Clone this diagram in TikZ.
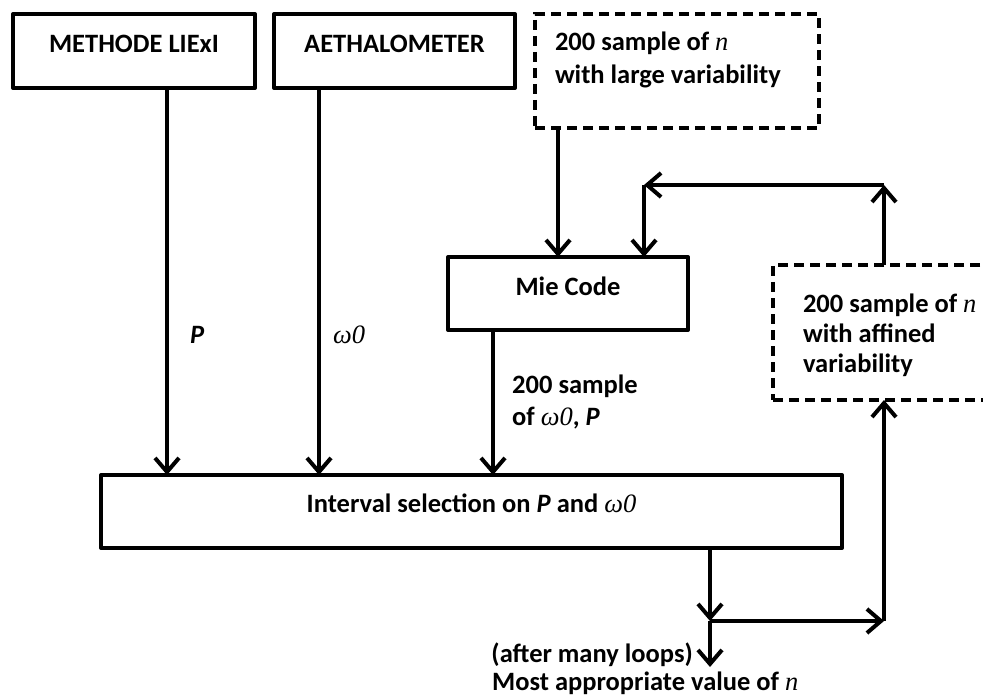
\documentclass[tikz,border=0pt]{standalone}
\usepackage{fontspec}
\setmainfont{Carlito}
\newfontfamily\varfont{Liberation Serif}
\usetikzlibrary{arrows.meta,positioning}

\newcommand{\omz}{{\varfont\mdseries\itshape ω0}}
\newcommand{\nval}{{\varfont\mdseries\itshape n}}

\begin{document}
\begin{tikzpicture}[
    x=1pt, y=-1pt,
    every node/.style={font=\fontsize{26.5}{32}\selectfont\bfseries, inner sep=0pt},
    box/.style={draw, line width=4pt, line join=round, outer sep=0pt, minimum height=74pt, align=center, text height=20pt},
    dbox/.style={draw, line width=3.5pt, dash pattern=on 10pt off 6pt, outer sep=0pt, align=flush left},
    flow/.style={line width=4pt, -{Straight Barb[length=14pt,width=24pt]}}
  ]
    \clip (0,0) rectangle (983,695);

    % sources
    \node[box, minimum width=242pt, text depth=17pt] (methode) at (134,51) {METHODE LIExI};
    \node[box, minimum width=241pt, text depth=17pt, right=19pt of methode] (aeth) {AETHALOMETER};
    \node[dbox, minimum width=284pt, minimum height=114pt, text width=244pt, inner xsep=20pt, text depth=60pt,
          right=20pt of aeth.north east, anchor=north west] (large) {200 sample of \nval\\[1pt]with large variability};

    \node[box, minimum width=240pt, minimum height=73pt, text depth=16pt] (mie) at (568,293.5) {Mie Code};
    \node[dbox, minimum width=260pt, minimum height=135pt, text width=200pt, inner xsep=30pt, text depth=58pt] (affined) at (903,332.5)
      {200 sample of \nval\\[-2pt]with affined\\[-2pt]variability};

    \node[box, minimum width=741pt, minimum height=73pt, text depth=19pt] (select) at (471.5,511.5)
      {Interval selection on \textit{P} and \omz};

    % columns and corners of the connectors
    \coordinate (xP) at (167,0);
    \coordinate (xW) at (319,0);
    \coordinate (xM) at (493,0);
    \coordinate (xN) at (558,0);
    \coordinate (xL) at (644,0);
    \coordinate (xR) at (884,0);
    \coordinate (xS) at (710,0);
    \coordinate (back) at (644,185);
    \coordinate (up) at (884,185);
    \coordinate (split) at (710,621);
    \coordinate (turn) at (884,621);
    \coordinate (result) at (710,667);

    \draw[flow] (methode.south -| xP) -- (select.north -| xP);
    \draw[flow] (aeth.south -| xW) -- (select.north -| xW);
    \draw[flow] (large.south -| xN) -- (mie.north -| xN);
    \draw[flow] (mie.south -| xM) -- (select.north -| xM);

    % refinement loop
    \draw[flow] (affined.north -| xR) -- (up);
    \draw[flow] (up) -- (back);
    \draw[flow] (back) -- (mie.north -| xL);
    \draw[flow] (select.south -| xS) -- (split);
    \draw[flow] (split) -- (turn);
    \draw[flow] (turn) -- (affined.south -| xR);
    \draw[flow] (split) -- (result);

    % labels
    \node[anchor=base west] (plabel) at (190,343) {\itshape P};
    \node[anchor=base west] (wlabel) at (333,343) {\omz};
    \node[anchor=north west, align=left] (mielabel) at (512,375) {200 sample\\of \omz, \textit{P}};
    \node[anchor=base east] (loops) at (693,662) {(after many loops)};
    \node[anchor=base west] (final) at (492,690) {Most appropriate value of \nval};
\end{tikzpicture}
\end{document}
